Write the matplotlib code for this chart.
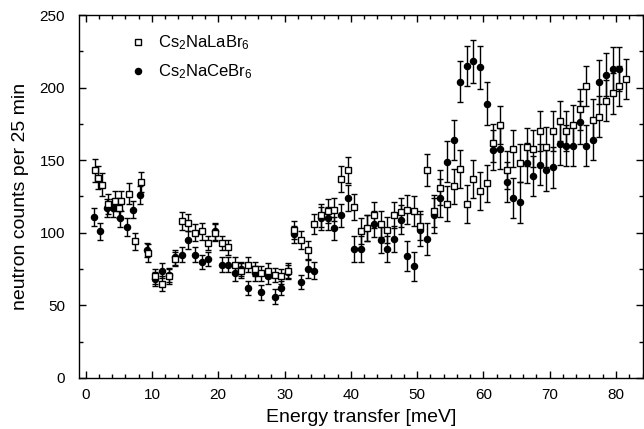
import numpy as np
import matplotlib.pyplot as plt
from matplotlib.lines import Line2D
from matplotlib.ticker import MultipleLocator

plt.rcParams['font.family'] = ['Liberation Sans', 'DejaVu Sans']
plt.rcParams['mathtext.fontset'] = 'custom'
plt.rcParams['mathtext.rm'] = 'Liberation Sans'
plt.rcParams['mathtext.it'] = 'Liberation Sans'

# Cs2NaLaBr6 (open squares)
e_la = [1.4, 1.9, 2.4, 3.4, 4.4, 5.0, 5.4, 6.5, 7.4, 8.4, 9.4, 10.4, 11.5, 12.5,
        13.5, 14.5, 15.5, 16.5, 17.5, 18.5, 19.5, 20.5, 21.5, 22.5, 23.5, 24.5,
        25.5, 26.5, 27.5, 28.5, 29.5, 30.5, 31.5, 32.5, 33.5, 34.5, 35.5, 36.5,
        37.5, 38.5, 39.5, 40.5, 41.5, 42.5, 43.5, 44.5, 45.5, 46.5, 47.5, 48.5,
        49.5, 50.5, 51.5, 52.5, 53.5, 54.5, 55.5, 56.5, 57.5, 58.5, 59.5, 60.5,
        61.5, 62.5, 63.5, 64.5, 65.5, 66.5, 67.5, 68.5, 69.5, 70.5, 71.5, 72.5,
        73.5, 74.5, 75.5, 76.5, 77.5, 78.5, 79.5, 80.5, 81.5]
n_la = [143, 138, 133, 120, 122, 117, 122, 127, 94, 135, 86, 70, 65, 70,
        82, 108, 107, 100, 101, 93, 100, 93, 90, 78, 74, 78,
        75, 72, 74, 71, 70, 74, 102, 95, 88, 106, 112, 115,
        116, 137, 143, 118, 101, 103, 112, 106, 102, 112, 114, 116,
        115, 105, 143, 115, 131, 120, 132, 144, 120, 137, 129, 134,
        162, 174, 143, 158, 148, 159, 158, 170, 159, 170, 177, 170,
        174, 185, 201, 178, 180, 191, 196, 201, 206]
err_la = [8, 8, 8, 7, 7, 7, 7, 7, 6, 7, 6, 5, 5, 5,
          5, 6, 6, 6, 6, 5, 6, 5, 5, 5, 5, 5,
          5, 5, 5, 5, 5, 5, 6, 6, 6, 7, 8, 8,
          8, 9, 9, 9, 9, 9, 9, 9, 9, 9, 10, 10,
          10, 10, 11, 11, 12, 12, 12, 13, 13, 13, 13, 13,
          13, 13, 13, 13, 13, 13, 13, 14, 14, 14, 14, 14,
          14, 14, 14, 14, 14, 14, 14, 14, 14]

# Cs2NaCeBr6 (filled circles)
e_ce = [1.2, 2.2, 3.2, 4.2, 5.2, 6.2, 7.2, 8.2, 9.3, 10.4, 11.5, 12.5, 13.5,
        14.5, 15.5, 16.5, 17.5, 18.5, 19.5, 20.5, 21.5, 22.5, 23.5, 24.5,
        25.5, 26.5, 27.5, 28.5, 29.5, 30.5, 31.5, 32.5, 33.5, 34.5, 35.5,
        36.5, 37.5, 38.5, 39.5, 40.5, 41.5, 42.5, 43.5, 44.5, 45.5, 46.5,
        47.5, 48.5, 49.5, 50.5, 51.5, 52.5, 53.5, 54.5, 55.5, 56.5, 57.5,
        58.5, 59.5, 60.5, 61.5, 62.5, 63.5, 64.5, 65.5, 66.5, 67.5, 68.5,
        69.5, 70.5, 71.5, 72.5, 73.5, 74.5, 75.5, 76.5, 77.5, 78.5, 79.5, 80.5]
n_ce = [111, 101, 117, 117, 110, 104, 116, 126, 88, 68, 74, 71, 83,
        85, 95, 85, 80, 82, 101, 78, 78, 72, 75, 62,
        72, 59, 70, 56, 62, 73, 99, 66, 75, 74, 110,
        110, 103, 112, 124, 89, 89, 103, 106, 95, 89, 96,
        109, 84, 77, 102, 96, 112, 124, 149, 164, 204, 215,
        218, 214, 189, 157, 158, 135, 124, 121, 148, 139, 147,
        143, 145, 161, 160, 160, 176, 160, 164, 204, 209, 213, 213]
err_ce = [6, 6, 6, 6, 6, 6, 6, 6, 5, 5, 5, 5, 5,
          5, 6, 5, 5, 5, 6, 5, 5, 5, 5, 5,
          5, 5, 5, 5, 5, 5, 6, 5, 6, 6, 8,
          8, 8, 8, 9, 9, 9, 9, 9, 9, 9, 9,
          10, 10, 10, 11, 11, 12, 13, 14, 14, 14, 14,
          15, 15, 15, 14, 14, 14, 14, 14, 14, 14, 14,
          14, 14, 14, 14, 14, 15, 14, 14, 15, 15, 15, 15]

fig = plt.figure(figsize=(6.44, 4.29), dpi=100)
ax = fig.add_axes([0.1227, 0.119, 0.875, 0.846])

ax.errorbar(e_la, n_la, yerr=err_la, fmt='s', ms=4.8, mfc='white', mec='black',
            mew=1.0, ecolor='black', elinewidth=1.0, capsize=2.0, capthick=1.0,
            zorder=3)
ax.errorbar(e_ce, n_ce, yerr=err_ce, fmt='o', ms=4.4, mfc='black', mec='black',
            ecolor='black', elinewidth=1.0, capsize=2.0, capthick=1.0,
            zorder=2)

ax.set_xlim(-1, 84)
ax.set_ylim(0, 250)
ax.xaxis.set_major_locator(MultipleLocator(10))
ax.xaxis.set_minor_locator(MultipleLocator(2))
ax.yaxis.set_major_locator(MultipleLocator(50))
ax.yaxis.set_minor_locator(MultipleLocator(25))
ax.tick_params(which='both', direction='in', top=True, right=True,
               labelsize=11, width=1.0)
ax.tick_params(which='major', length=5)
ax.tick_params(axis='x', which='major', pad=7)
ax.tick_params(axis='y', which='major', pad=10)
ax.tick_params(which='minor', length=3)
for s in ax.spines.values():
    s.set_linewidth(1.0)

ax.set_xlabel('Energy transfer [meV]', fontsize=14, labelpad=5)
ax.set_ylabel('neutron counts per 25 min', fontsize=14, labelpad=8)

handles = [
    Line2D([], [], ls='none', marker='s', ms=4.8, mfc='white', mec='black'),
    Line2D([], [], ls='none', marker='o', ms=4.4, mfc='black', mec='black'),
]
ax.legend(handles, ['Cs$_2$NaLaBr$_6$', 'Cs$_2$NaCeBr$_6$'], loc='upper left',
          bbox_to_anchor=(0.06, 0.99), frameon=False, fontsize=12,
          handlelength=1.2, handletextpad=0.6, labelspacing=0.6)

fig.savefig('out.png', dpi=100)
